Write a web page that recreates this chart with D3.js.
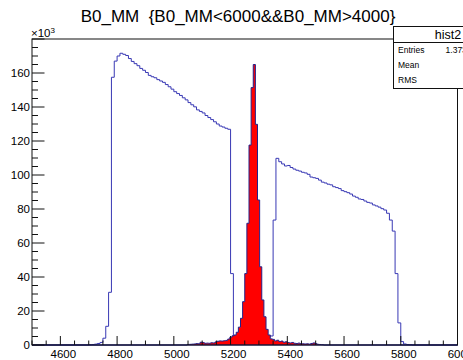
<!DOCTYPE html>
<html>
<head>
<meta charset="utf-8">
<script src="https://cdnjs.cloudflare.com/ajax/libs/d3/7.8.5/d3.min.js"></script>
<style>
  body { margin: 0; background: #fff; }
  svg { display: block; font-family: "Liberation Sans", Arial, sans-serif; }
</style>
</head>
<body>
<div id="chart"></div>
<script>
// blue histogram (hist2), bins of 10 MeV starting at 4700, counts in 10^3
const blueStart = 4700;
const blueWidth = 10;
const blueCounts = [
  0.2, 0.3, 0.5, 0.9, 1.5, 4, 11, 31, 157.5, 167,
  170, 171.6, 171, 170.3, 168.5, 166.8, 165.5, 164.3, 162.7, 161.6,
  160.3, 158.6, 157.8, 157.2, 156.1, 155.3, 154.5, 153.2, 151.9, 150.5,
  149, 147.9, 146.8, 145.4, 144.2, 142.6, 141.3, 140.1, 138.3, 137.4,
  136.5, 135, 133.8, 132.6, 131.3, 130, 128.8, 128.2, 127.5, 126.9,
  42, 5.6, 5.2, 5.0, 4.8, 4.9, 5.1, 4.7, 5.0, 4.8,
  4.6, 4.9, 5.0, 5.1, 5.3, 73.5, 109.8, 107.8, 106.5, 105.3,
  105.6, 104.4, 103.5, 102.8, 102.3, 101.6, 101.2, 100.4, 98.8, 98.4,
  98, 97, 95.8, 95.3, 94.6, 94.2, 93.1, 92.6, 92, 90.8,
  90.2, 89.6, 88.8, 87.6, 86.9, 85.9, 85.6, 84.7, 83.9, 83.5,
  82.4, 81.8, 81.1, 80.2, 79.4, 77.5, 73.5, 67, 42, 13,
  2, 0.6, 0.3, 0.2
];

// red histogram, bins of 7.5 MeV starting at 5047.5, counts in 10^3
const redStart = 5047.5;
const redWidth = 7.5;
const redCounts = [
  0.3, 0.4, 0.5, 0.6, 0.8, 0.7, 1.6, 1.4, 1.0, 1.1,
  1.0, 1.3, 1.2, 1.8, 2.2, 2.4, 2.3, 2.5, 2.7, 3.5,
  4.6, 5.4, 5.9, 7.5, 10.5, 15.7, 25.5, 42, 71.6, 117.6,
  151.4, 165, 129.8, 85.3, 46, 26.5, 16.6, 9.2, 5.9, 3.6,
  3.3, 2.4, 2.8, 2.0, 2.3, 1.6, 1.9, 1.4, 1.2, 1.5,
  1.0, 0.9, 1.1, 0.8, 0.7, 0.6, 0.7, 0.5, 0.9, 1.2,
  0.8, 0.4, 0.3, 0.2
];

const xMajorTicks = [4600, 4800, 5000, 5200, 5400, 5600, 5800, 6000];
const yMajorTicks = [0, 20, 40, 60, 80, 100, 120, 140, 160];
const statsLabels = ['Entries', 'Mean', 'RMS'];
const statsValues = ['1.373e+06', '5272', '287.4'];

const width = 463;
const height = 360;
const frame = { left: 32, right: 457.5, top: 39, bottom: 345 };

const svg = d3.select('#chart')
  .append('svg')
  .attr('width', width)
  .attr('height', height);

const x = d3.scaleLinear().domain([4500, 6000]).range([frame.left, frame.right]);
const y = d3.scaleLinear().domain([0, 180]).range([frame.bottom, frame.top]);

function stepPoints(start, w, counts) {
  const pts = [[4500, 0], [start, 0]];
  counts.forEach((c, i) => {
    pts.push([start + i * w, c]);
    pts.push([start + (i + 1) * w, c]);
  });
  pts.push([start + counts.length * w, 0]);
  pts.push([6000, 0]);
  return pts;
}

const line = d3.line().x(d => x(d[0])).y(d => y(d[1]));

const plot = svg.append('g');

// blue outline histogram
plot.append('path')
  .attr('d', line(stepPoints(blueStart, blueWidth, blueCounts)))
  .attr('fill', 'none')
  .attr('stroke', '#3838b4')
  .attr('stroke-width', 1);

// red filled histogram on top
const redPts = stepPoints(redStart, redWidth, redCounts);
plot.append('path')
  .attr('d', line(redPts) + 'Z')
  .attr('fill', '#ff0000')
  .attr('stroke', '#22228a')
  .attr('stroke-width', 1);

// frame
svg.append('rect')
  .attr('x', frame.left)
  .attr('y', frame.top)
  .attr('width', frame.right - frame.left)
  .attr('height', frame.bottom - frame.top)
  .attr('fill', 'none')
  .attr('stroke', '#111')
  .attr('stroke-width', 1);

// x axis ticks
const xMinor = d3.range(4500, 6001, 50);
svg.append('g').selectAll('line')
  .data(xMinor)
  .join('line')
  .attr('x1', d => x(d)).attr('x2', d => x(d))
  .attr('y1', frame.bottom)
  .attr('y2', d => frame.bottom - (d % 200 === 0 ? 9 : 4.5))
  .attr('stroke', '#111');

svg.append('g').selectAll('text')
  .data(xMajorTicks)
  .join('text')
  .attr('x', d => x(d) + 3)
  .attr('y', 358)
  .attr('text-anchor', 'middle')
  .attr('font-size', 11.5)
  .text(d => d);

// y axis ticks
const yMinor = d3.range(0, 181, 5);
svg.append('g').selectAll('line')
  .data(yMinor)
  .join('line')
  .attr('x1', frame.left)
  .attr('x2', d => frame.left + (d % 20 === 0 ? 12.5 : 6))
  .attr('y1', d => y(d)).attr('y2', d => y(d))
  .attr('stroke', '#111');

svg.append('g').selectAll('text')
  .data(yMajorTicks)
  .join('text')
  .attr('x', 30)
  .attr('y', d => y(d) + 4)
  .attr('text-anchor', 'end')
  .attr('font-size', 11.5)
  .text(d => d);

// exponent label
const expo = svg.append('text')
  .attr('x', 31)
  .attr('y', 37)
  .attr('font-size', 11.5);
expo.append('tspan').text('\u00d710');
expo.append('tspan').attr('dy', -4).attr('font-size', 8).text('3');

// title
svg.append('text')
  .attr('x', 238)
  .attr('y', 22)
  .attr('text-anchor', 'middle')
  .attr('font-size', 17)
  .style('white-space', 'pre')
  .text('B0_MM  {B0_MM<6000&&B0_MM>4000}');

// stats box
const stats = svg.append('g');
stats.append('rect')
  .attr('x', 393.5).attr('y', 26.5)
  .attr('width', 110).attr('height', 62)
  .attr('fill', '#fff')
  .attr('stroke', '#111');
stats.append('line')
  .attr('x1', 393.5).attr('x2', 503.5)
  .attr('y1', 42.5).attr('y2', 42.5)
  .attr('stroke', '#111');
stats.append('text')
  .attr('x', 448).attr('y', 38.5)
  .attr('text-anchor', 'middle')
  .attr('font-size', 12.5)
  .text('hist2');
stats.selectAll('text.lab')
  .data(statsLabels)
  .join('text')
  .attr('class', 'lab')
  .attr('x', 398)
  .attr('y', (d, i) => 53 + i * 15)
  .attr('font-size', 8.5)
  .text(d => d);
stats.selectAll('text.val')
  .data(statsValues)
  .join('text')
  .attr('class', 'val')
  .attr('x', 486)
  .attr('y', (d, i) => 53 + i * 15)
  .attr('text-anchor', 'end')
  .attr('font-size', 8.5)
  .text(d => d);
</script>
</body>
</html>
